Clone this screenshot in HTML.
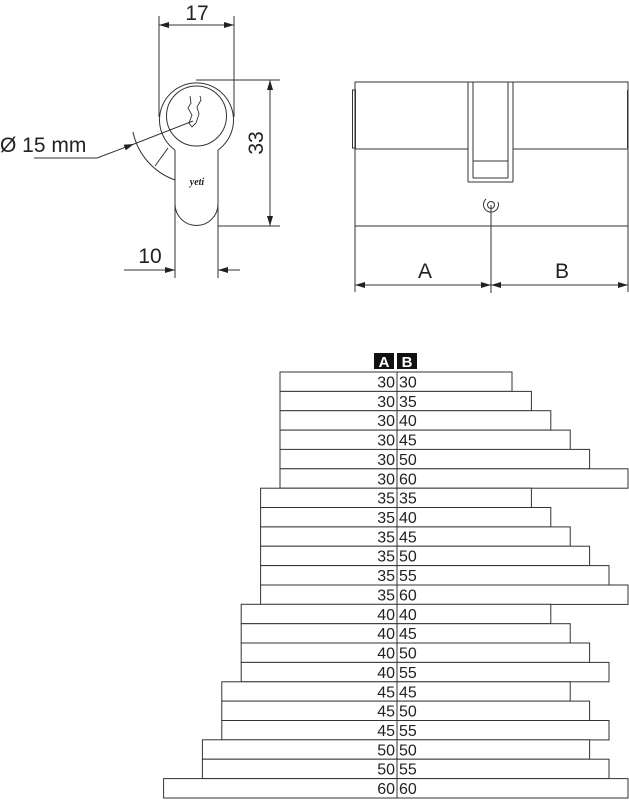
<!DOCTYPE html>
<html><head><meta charset="utf-8"><style>
html,body{margin:0;padding:0;background:#fff;}
svg{display:block}
text{font-family:"Liberation Sans",Arial,sans-serif;fill:#222}
</style></head><body>
<svg width="629" height="800" viewBox="0 0 629 800" xmlns="http://www.w3.org/2000/svg">
<defs>
<marker id="ar" viewBox="0 0 10 6" refX="10" refY="3" markerWidth="10" markerHeight="6" orient="auto-start-reverse" markerUnits="userSpaceOnUse"><path d="M0,0 L10,3 L0,6 z" fill="#222"/></marker>
</defs>
<g stroke="#333" stroke-width="1" fill="none">
<line x1="159" y1="16" x2="159" y2="117"/>
<line x1="234" y1="16" x2="234" y2="117"/>
<line x1="159" y1="25" x2="234" y2="25" marker-start="url(#ar)" marker-end="url(#ar)"/>
<path d="M175,150 A37,37 0 1 1 218,150"/>
<circle cx="196.5" cy="116" r="30"/>
<path d="M175,150 L175,204 A21.5,21.5 0 0 0 218,204 L218,150"/>
<path d="M190,96 L191,103 L188,108 L192,115 L189,123 L192,127 L196,123 L199,114 L197,107 L201,100 L200,96" stroke-width="0.9"/>
<line x1="196" y1="80" x2="280" y2="80"/>
<line x1="218" y1="226" x2="280" y2="226"/>
<line x1="270" y1="80" x2="270" y2="226" marker-start="url(#ar)" marker-end="url(#ar)"/>
<line x1="175" y1="204" x2="175" y2="278"/>
<line x1="218" y1="204" x2="218" y2="278"/>
<line x1="124" y1="270" x2="175" y2="270" marker-end="url(#ar)"/>
<line x1="240" y1="270" x2="218" y2="270" marker-end="url(#ar)"/>
<polyline points="34,158 97,158"/>
<line x1="97" y1="158" x2="134" y2="144" marker-end="url(#ar)"/>
<line x1="134" y1="144" x2="193" y2="121"/>
<path d="M133,132 A65,65 0 0 0 175,180"/>
<line x1="155" y1="166" x2="168" y2="148"/>
<rect x="355" y="82" width="273" height="144"/>
<line x1="355" y1="149" x2="468" y2="149"/>
<line x1="513" y1="149" x2="628" y2="149"/>
<line x1="468" y1="82" x2="468" y2="182"/>
<line x1="513" y1="82" x2="513" y2="182"/>
<line x1="468" y1="182" x2="513" y2="182"/>
<line x1="473" y1="82" x2="473" y2="178"/>
<line x1="508" y1="82" x2="508" y2="178"/>
<line x1="473" y1="161" x2="508" y2="161"/>
<line x1="473" y1="178" x2="508" y2="178"/>
<rect x="352.5" y="90" width="3" height="58"/>
<line x1="627.5" y1="90" x2="627.5" y2="148"/>
<circle cx="491" cy="205" r="3.5"/>
<path d="M498,202 A7.5,7.5 0 1 1 486,199" />
<line x1="491" y1="205" x2="491" y2="293"/>
<line x1="355" y1="226" x2="355" y2="292"/>
<line x1="628" y1="226" x2="628" y2="292"/>
<line x1="355" y1="285" x2="491" y2="285" marker-start="url(#ar)" marker-end="url(#ar)"/>
<line x1="491" y1="285" x2="628" y2="285" marker-start="url(#ar)" marker-end="url(#ar)"/>
</g>
<text x="197" y="20" font-size="21" text-anchor="middle">17</text>
<text x="150" y="263" font-size="21" text-anchor="middle">10</text>
<text x="0" y="152" font-size="21">Ø 15 mm</text>
<text transform="translate(263,143) rotate(-90)" font-size="21" text-anchor="middle">33</text>
<text x="425" y="278" font-size="21" text-anchor="middle">A</text>
<text x="562" y="278" font-size="21" text-anchor="middle">B</text>
<text x="197" y="185" font-size="10" font-style="italic" font-weight="bold" text-anchor="middle" style="font-family:'Liberation Serif',serif">yeti</text>
<rect x="374" y="353" width="20" height="16" fill="#111"/>
<rect x="397" y="353" width="20" height="16" fill="#111"/>
<text x="384" y="367" font-size="15" font-weight="bold" text-anchor="middle" style="fill:#fff">A</text>
<text x="407" y="367" font-size="15" font-weight="bold" text-anchor="middle" style="fill:#fff">B</text>
<g stroke="#333" stroke-width="1" fill="#fff">
<rect x="280" y="372.0" width="232" height="19.4"/>
<rect x="280" y="391.4" width="251.4" height="19.4"/>
<rect x="280" y="410.7" width="270.8" height="19.4"/>
<rect x="280" y="430.1" width="290.2" height="19.4"/>
<rect x="280" y="449.4" width="309.6" height="19.4"/>
<rect x="280" y="468.8" width="348" height="19.4"/>
<rect x="260.6" y="488.2" width="270.8" height="19.4"/>
<rect x="260.6" y="507.5" width="290.2" height="19.4"/>
<rect x="260.6" y="526.9" width="309.6" height="19.4"/>
<rect x="260.6" y="546.2" width="329" height="19.4"/>
<rect x="260.6" y="565.6" width="348.4" height="19.4"/>
<rect x="260.6" y="585.0" width="367.4" height="19.4"/>
<rect x="241.2" y="604.3" width="309.6" height="19.4"/>
<rect x="241.2" y="623.7" width="329" height="19.4"/>
<rect x="241.2" y="643.0" width="348.4" height="19.4"/>
<rect x="241.2" y="662.4" width="367.8" height="19.4"/>
<rect x="221.8" y="681.8" width="348.4" height="19.4"/>
<rect x="221.8" y="701.1" width="367.8" height="19.4"/>
<rect x="221.8" y="720.5" width="387.2" height="19.4"/>
<rect x="202.4" y="739.8" width="387.2" height="19.4"/>
<rect x="202.4" y="759.2" width="406.6" height="19.4"/>
<rect x="163.6" y="778.6" width="464.4" height="19.4"/>
<line x1="397" y1="372" x2="397" y2="798"/>
</g>
<g font-size="16" text-anchor="end">
<text x="395" y="387.5">30</text><text x="395" y="406.9">30</text><text x="395" y="426.2">30</text><text x="395" y="445.6">30</text><text x="395" y="464.9">30</text><text x="395" y="484.3">30</text>
<text x="395" y="503.7">35</text><text x="395" y="523.0">35</text><text x="395" y="542.4">35</text><text x="395" y="561.7">35</text><text x="395" y="581.1">35</text><text x="395" y="600.5">35</text>
<text x="395" y="619.8">40</text><text x="395" y="639.2">40</text><text x="395" y="658.5">40</text><text x="395" y="677.9">40</text>
<text x="395" y="697.3">45</text><text x="395" y="716.6">45</text><text x="395" y="736.0">45</text>
<text x="395" y="755.3">50</text><text x="395" y="774.7">50</text>
<text x="395" y="794.1">60</text>
</g>
<g font-size="16">
<text x="399" y="387.5">30</text><text x="399" y="406.9">35</text><text x="399" y="426.2">40</text><text x="399" y="445.6">45</text><text x="399" y="464.9">50</text><text x="399" y="484.3">60</text>
<text x="399" y="503.7">35</text><text x="399" y="523.0">40</text><text x="399" y="542.4">45</text><text x="399" y="561.7">50</text><text x="399" y="581.1">55</text><text x="399" y="600.5">60</text>
<text x="399" y="619.8">40</text><text x="399" y="639.2">45</text><text x="399" y="658.5">50</text><text x="399" y="677.9">55</text>
<text x="399" y="697.3">45</text><text x="399" y="716.6">50</text><text x="399" y="736.0">55</text>
<text x="399" y="755.3">50</text><text x="399" y="774.7">55</text>
<text x="399" y="794.1">60</text>
</g>
</svg>
</body></html>
